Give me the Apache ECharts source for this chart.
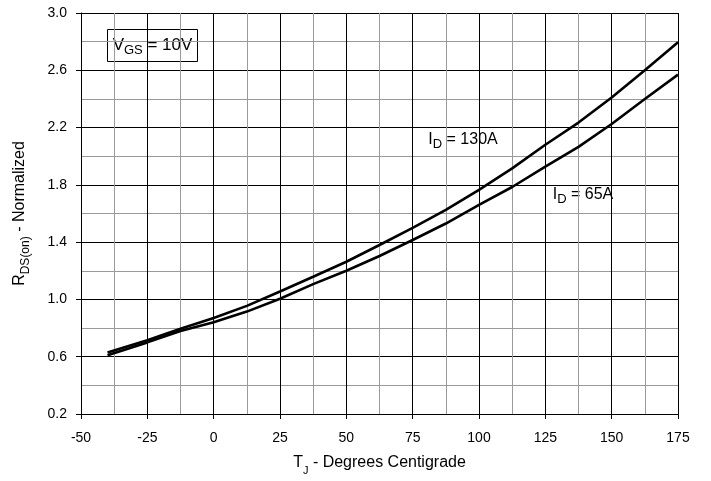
<!DOCTYPE html>
<html>
<head>
<meta charset="utf-8">
<script src="https://cdn.jsdelivr.net/npm/echarts@6/dist/echarts.min.js"></script>
<style>
html,body{margin:0;padding:0;background:#fff;}
#chart{width:711px;height:481px;}
</style>
</head>
<body>
<div id="chart"></div>
<script>
// Junction temperature (°C)
const temps = [-40, -25, -12.5, 0, 12.5, 25, 37.5, 50, 62.5, 75, 87.5, 100, 112.5, 125, 137.5, 150, 162.5, 175];
// Normalized RDS(on), ID = 130A
const rds130 = [0.63, 0.715, 0.795, 0.87, 0.955, 1.055, 1.158, 1.263, 1.38, 1.50, 1.625, 1.765, 1.915, 2.08, 2.235, 2.41, 2.60, 2.795];
// Normalized RDS(on), ID = 65A
const rds65 = [0.61, 0.70, 0.78, 0.84, 0.915, 1.005, 1.107, 1.20, 1.303, 1.415, 1.53, 1.66, 1.785, 1.927, 2.065, 2.225, 2.40, 2.57];
const xTicks = [-50, -25, 0, 25, 50, 75, 100, 125, 150, 175];
const yTicks = [0.2, 0.6, 1.0, 1.4, 1.8, 2.2, 2.6, 3.0];

const FONT = 'Liberation Sans, Arial, Helvetica, sans-serif';
const chart = echarts.init(document.getElementById('chart'), null, {renderer: 'canvas'});

const pairs = (xs, ys) => xs.map((x, i) => [x, ys[i]]);

const option = {
  animation: false,
  backgroundColor: '#fff',
  grid: {left: 81, right: 33, top: 13, bottom: 67, containLabel: false, outerBoundsMode: 'none'},
  xAxis: {
    type: 'value',
    min: xTicks[0], max: xTicks[xTicks.length - 1], interval: 25,
    name: '{m|T}{s|J}{m| - Degrees Centigrade}',
    nameLocation: 'middle', nameGap: 36,
    nameTextStyle: {
      fontFamily: FONT, color: '#000',
      rich: {
        m: {fontSize: 16, fontFamily: FONT, color: '#000'},
        s: {fontSize: 11, fontFamily: FONT, color: '#000', verticalAlign: 'bottom', lineHeight: 26}
      }
    },
    axisLine: {show: true, onZero: false, lineStyle: {color: '#000', width: 1}},
    axisTick: {show: true, inside: false, length: 5, lineStyle: {color: '#000'}},
    axisLabel: {fontFamily: FONT, fontSize: 14, color: '#000', margin: 17},
    splitLine: {show: true, lineStyle: {color: '#000', width: 1}},
    minorTick: {show: false, splitNumber: 2},
    minorSplitLine: {show: true, lineStyle: {color: '#9a9a9a', width: 1}}
  },
  yAxis: {
    type: 'value',
    min: yTicks[0], max: yTicks[yTicks.length - 1], interval: 0.4,
    name: '{m|R}{s|DS(on)}{m| - Normalized}',
    nameLocation: 'middle', nameGap: 49, nameRotate: 90,
    nameTextStyle: {
      fontFamily: FONT, color: '#000',
      rich: {
        m: {fontSize: 16, fontFamily: FONT, color: '#000'},
        s: {fontSize: 12, fontFamily: FONT, color: '#000', verticalAlign: 'bottom', lineHeight: 24}
      }
    },
    axisLine: {show: true, onZero: false, lineStyle: {color: '#000', width: 1}},
    axisTick: {show: true, inside: false, length: 5, lineStyle: {color: '#000'}},
    axisLabel: {fontFamily: FONT, fontSize: 14, color: '#000', margin: 14,
      formatter: v => v.toFixed(1)},
    splitLine: {show: true, lineStyle: {color: '#000', width: 1}},
    minorTick: {show: false, splitNumber: 2},
    minorSplitLine: {show: true, lineStyle: {color: '#9a9a9a', width: 1}}
  },
  series: [
    {
      name: 'ID = 130A', type: 'line', data: pairs(temps, rds130),
      showSymbol: false, smooth: false, z: 5,
      lineStyle: {color: '#000', width: 2.6}
    },
    {
      name: 'ID = 65A', type: 'line', data: pairs(temps, rds65),
      showSymbol: false, smooth: false, z: 5,
      lineStyle: {color: '#000', width: 2.6}
    }
  ],
  graphic: [
    {
      type: 'group', left: 107, top: 29, z: 10,
      children: [
        {type: 'rect', shape: {x: 0, y: 0, width: 90, height: 32},
         style: {fill: '#fff', stroke: '#000', lineWidth: 1}},
        {type: 'text', x: 45, y: 16,
         style: {
           text: '{m|V}{s|GS}{m| = 10V}', align: 'center', verticalAlign: 'middle',
           font: '17px ' + FONT, fill: '#000',
           rich: {
             m: {fontSize: 17, fontFamily: FONT, fill: '#000', lineHeight: 22},
             s: {fontSize: 13, fontFamily: FONT, fill: '#000', verticalAlign: 'bottom', lineHeight: 22}
           }
         }}
      ]
    },
    {
      type: 'group', left: 422, top: 121, z: 4,
      children: [
        {type: 'rect', shape: {x: 0, y: 0, width: 83, height: 34}, style: {fill: '#fff'}},
        {type: 'text', x: 41, y: 19,
         style: {
           text: '{m|I}{s|D}{m| = 130A}', align: 'center', verticalAlign: 'middle',
           font: '16px ' + FONT, fill: '#000',
           rich: {
             m: {fontSize: 16, fontFamily: FONT, fill: '#000', lineHeight: 22},
             s: {fontSize: 13, fontFamily: FONT, fill: '#000', verticalAlign: 'bottom', lineHeight: 22}
           }
         }}
      ]
    },
    {
      type: 'group', left: 547, top: 176, z: 4,
      children: [
        {type: 'rect', shape: {x: 0, y: 0, width: 73, height: 34}, style: {fill: '#fff'}},
        {type: 'text', x: 36, y: 19,
         style: {
           text: '{m|I}{s|D}{m| = 65A}', align: 'center', verticalAlign: 'middle',
           font: '16px ' + FONT, fill: '#000',
           rich: {
             m: {fontSize: 16, fontFamily: FONT, fill: '#000', lineHeight: 22},
             s: {fontSize: 13, fontFamily: FONT, fill: '#000', verticalAlign: 'bottom', lineHeight: 22}
           }
         }}
      ]
    }
  ]
};
chart.setOption(option);
</script>
</body>
</html>
